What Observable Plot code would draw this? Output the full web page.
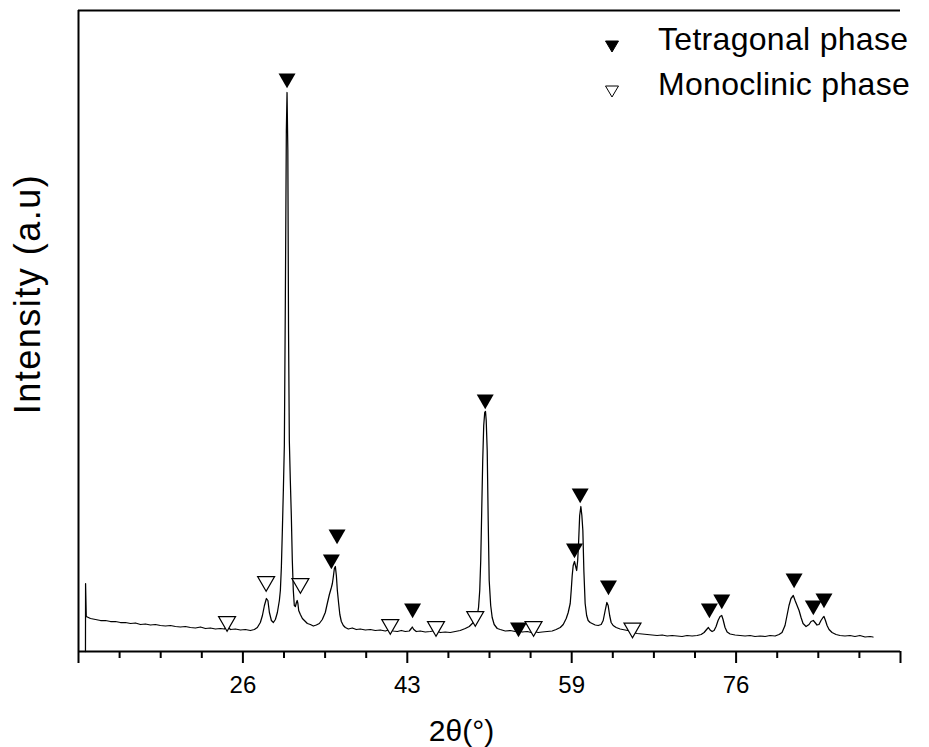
<!DOCTYPE html>
<html><head><meta charset="utf-8">
<script src="https://cdn.jsdelivr.net/npm/d3@7"></script>
<script src="https://cdn.jsdelivr.net/npm/@observablehq/plot@0.6"></script>
<style>
html,body{margin:0;padding:0;background:#fff;}
#wrap{position:relative;width:929px;height:747px;font-family:"Liberation Sans",Arial,sans-serif;}
#legend{position:absolute;left:0;top:0;}
</style></head>
<body><div id="wrap"></div>
<script>
const theta = [10.20,10.21,10.28,10.70,11.21,11.71,12.21,12.71,13.21,13.71,14.21,14.72,15.22,15.72,16.22,16.72,17.22,17.72,18.23,18.73,19.23,19.73,20.23,20.73,21.24,21.74,22.24,22.74,23.24,23.74,24.14,24.44,24.75,25.25,25.75,26.25,26.75,27.15,27.45,27.75,27.96,28.16,28.36,28.51,28.66,28.86,29.06,29.26,29.46,29.66,29.76,29.86,29.96,30.06,30.16,30.26,30.36,30.43,30.51,30.58,30.66,30.76,30.86,30.96,31.06,31.16,31.27,31.37,31.45,31.52,31.60,31.77,31.97,32.17,32.47,32.77,33.07,33.37,33.67,33.97,34.27,34.47,34.68,34.88,34.98,35.08,35.18,35.28,35.38,35.48,35.61,35.73,35.88,36.08,36.28,36.58,36.98,37.38,37.78,38.29,38.79,39.29,39.79,40.29,40.79,41.09,41.50,41.90,42.30,42.70,42.90,43.00,43.15,43.40,43.80,44.30,44.81,45.31,45.81,46.31,46.81,47.31,47.81,48.32,48.72,49.02,49.32,49.52,49.65,49.77,49.87,49.97,50.07,50.17,50.27,50.35,50.42,50.52,50.62,50.72,50.87,51.02,51.22,51.53,51.83,52.33,52.83,53.33,53.63,54.03,54.54,54.94,55.24,55.64,56.04,56.54,57.04,57.44,57.85,58.15,58.45,58.65,58.85,58.95,59.05,59.15,59.28,59.40,59.50,59.60,59.70,59.80,59.92,60.02,60.12,60.22,60.35,60.50,60.65,60.85,61.05,61.36,61.66,61.96,62.16,62.36,62.53,62.66,62.81,62.96,63.16,63.46,63.86,64.36,64.87,65.17,65.57,66.07,66.57,67.07,67.57,68.08,68.58,69.08,69.58,70.08,70.58,71.08,71.59,71.99,72.29,72.54,72.72,72.89,73.09,73.29,73.49,73.69,73.89,74.06,74.19,74.39,74.60,74.90,75.40,75.90,76.40,76.90,77.40,77.91,78.41,78.91,79.41,79.81,80.11,80.41,80.61,80.81,81.01,81.24,81.42,81.62,81.82,82.02,82.22,82.52,82.82,83.02,83.25,83.42,83.62,83.82,84.02,84.22,84.32,84.47,84.63,84.83,85.13,85.53,85.93,86.43,86.93,87.43,87.93,88.44,88.94,89.24];
const intensity = [0,68,35,33,32,31,31,30,30,29,29,28,28.5,27,27.5,26.5,27,26,25.5,26,25,24.5,25,24,23.5,24.5,23,23.5,22.5,23,22.5,25,22,22.5,21.5,22,21,22,24,29,36,46,53,51,39,31,29,32,39,51,61,84,121,161,206,351,521,559,501,321,211,171,136,91,61,46,45,49,51,48,41,37,33,31,28,27,25.5,26.5,28,32,39,48,57,64,68,75,83,85,76,61,48,37,30,26,24,22.5,23.5,22,22.5,21.5,22,21,21.5,20.5,22,20.5,20,21,20,20.5,23,24.5,22,20,20.5,19.5,20,21,19,19.5,19,20,21,23,25,28,31,36,44,61,91,141,191,226,239,240,231,201,131,71,46,34,27,23,22,20.5,21,20,21,19.5,20,19,20,19,19.5,20,20.5,22,24,27,33,39,48,61,76,86,90,85,81,91,111,136,145,136,121,81,48,36,31,29,28,26.5,26,27,31,41,49,46,36,29,26,24,22.5,21.5,20.5,19,18,17.5,17,16.5,16,16.5,15.5,16,15.5,15,16,15.5,16,17,19,22,24,21.5,20,21,25,31,35,36,32,24,19.5,17.5,16.5,16,15.5,16,15,15.5,15,16,15.5,17,19,26,36,46,53,56,51,46,41,34,28,25,27,30,31,29,26.5,27,31,34,35,31,26,22,19,17,16,15.5,16,15,16,14.5,15,14.5];

// peak markers
const tetraTheta = [30.43,35.45,34.88,43.03,50.32,53.66,59.28,59.85,62.69,72.82,74.06,81.32,83.25,84.32];
const tetraI     = [573,117,92,43,252,24,103,158,66,43,52,73,46,53];
const monoTheta  = [24.41,28.33,31.77,40.79,45.38,49.32,55.17,65.10];
const monoI      = [30,70,68,27,25,35,25,23.5];

// axis
const xDomain = [9.5, 92];
const yDomain = [0, 641];
const majorTicks = [9.5, 26, 42.5, 59, 75.5, 92];
const majorLabels = ["", "26", "43", "59", "76", ""];
const minorTicks = [13.625,17.75,21.875,30.125,34.25,38.375,46.625,50.75,54.875,63.125,67.25,71.375,79.625,83.75,87.875];
const xLabel = "2θ(°)";
const yLabel = "Intensity (a.u)";

const legendLabels = ["Tetragonal phase", "Monoclinic phase"];
const legendFills = ["#000", "#fff"];

const data = theta.map((t, i) => ({t, I: intensity[i]}));
const tetra = tetraTheta.map((t, i) => ({t, I: tetraI[i]}));
const mono = monoTheta.map((t, i) => ({t, I: monoI[i]}));
const labelMap = new Map(majorTicks.map((d, i) => [d, majorLabels[i]]));

const font = "Liberation Sans, Arial, sans-serif";
const plot = Plot.plot({
  width: 929, height: 747,
  marginLeft: 78, marginRight: 29, marginTop: 10, marginBottom: 96,
  x: {domain: xDomain, axis: null},
  y: {domain: yDomain, axis: null},
  style: {fontFamily: font, color: "#000", background: "#fff", overflow: "visible"},
  marks: [
    Plot.ruleY([yDomain[0]], {stroke: "#000", strokeWidth: 2}),
    Plot.ruleY([yDomain[1]], {stroke: "#000", strokeWidth: 2}),
    Plot.ruleX([xDomain[0]], {stroke: "#000", strokeWidth: 2}),
    Plot.axisX({ticks: majorTicks, tickSize: 12, tickPadding: 12, tickFormat: d => labelMap.get(d), fontSize: 24, strokeWidth: 2, label: null}),
    Plot.axisX({ticks: minorTicks, tickSize: 7, tickFormat: () => "", strokeWidth: 2, label: null}),
    Plot.line(data, {x: "t", y: "I", stroke: "#000", strokeWidth: 1.25}),
    Plot.dot(tetra, {x: "t", y: "I", symbol: "triangle", rotate: 180, r: 6.3, fill: "#000", stroke: "none"}),
    Plot.dot(mono, {x: "t", y: "I", symbol: "triangle", rotate: 180, r: 6.3, fill: "#fff", stroke: "#000", strokeWidth: 1.2}),
    Plot.text([yLabel], {frameAnchor: "left", textAnchor: "middle", lineAnchor: "middle", rotate: -90, dx: -50, dy: -37, fontSize: 36, fill: "#000"}),
    Plot.text([xLabel], {frameAnchor: "bottom", textAnchor: "middle", lineAnchor: "middle", dx: -28, dy: 80, fontSize: 30, fill: "#000"})
  ]
});
d3.select(plot).selectAll("text").filter(function() { return this.textContent === yLabel; })
  .attr("letter-spacing", "1.5px");
const wrap = document.getElementById("wrap");
wrap.appendChild(plot);

// legend overlay
const leg = d3.select(wrap).append("svg").attr("id", "legend").attr("width", 929).attr("height", 120);
const rows = leg.selectAll("g").data(legendLabels).join("g")
  .attr("transform", (d, i) => `translate(612,${45 + i * 45})`);
rows.append("path")
  .attr("d", "M-6.5,-4 L6.5,-4 L0,7 Z")
  .attr("fill", (d, i) => legendFills[i])
  .attr("stroke", "#000").attr("stroke-width", 1);
rows.append("text")
  .attr("x", 46).attr("y", 5)
  .attr("font-family", font).attr("font-size", 32).attr("letter-spacing", "0.3px").attr("fill", "#000")
  .text(d => d);
</script>
</body></html>
